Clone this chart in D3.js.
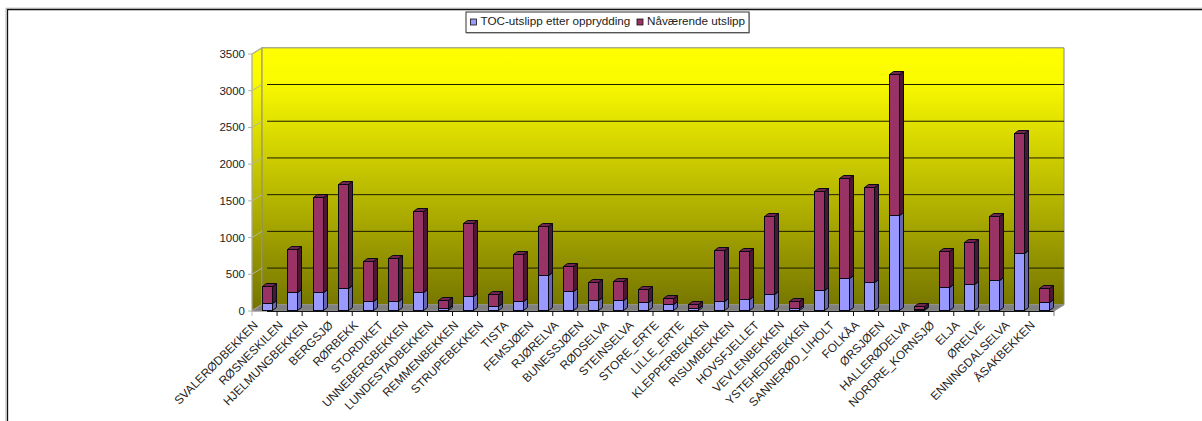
<!DOCTYPE html>
<html>
<head>
<meta charset="utf-8">
<script src="https://cdn.jsdelivr.net/npm/d3@7"></script>
<style>
html,body{margin:0;padding:0;background:#fff;overflow:hidden}
svg{display:block}
text{font-family:"Liberation Sans",Arial,sans-serif;fill:#222}
</style>
</head>
<body>
<div id="chart"></div>
<script>
const categories = ["SVALERØDBEKKEN","RØSNESKILEN","HJELMUNGBEKKEN","BERGSJØ","RØRBEKK","STORDIKET","UNNEBERGBEKKEN","LUNDESTADBEKKEN","REMMENBEKKEN","STRUPEBEKKEN","TISTA","FEMSJØEN","RJØRELVA","BUNESSJØEN","RØDSELVA","STEINSELVA","STORE_ERTE","LILLE_ERTE","KLEPPERBEKKEN","RISUMBEKKEN","HOVSFJELLET","VEVLENBEKKEN","YSTEHEDEBEKKEN","SANNERØD_LIHOLT","FOLKÅA","ØRSJØEN","HALLERØDELVA","NORDRE_KORNSJØ","ELJA","ØRELVE","ENNINGDALSELVA","ÅSAKBEKKEN"];
const etterOpprydding = [85,237,237,291,123,123,245,23,187,50,114,473,259,136,136,101,73,23,123,146,210,23,272,436,373,1294,8,309,350,409,768,101];
const naavaerendeTotal = [323,823,1535,1707,663,700,1344,132,1181,210,759,1135,600,373,395,286,155,82,809,796,1280,114,1620,1793,1671,3211,50,800,918,1272,2402,300];
const naavaerende = naavaerendeTotal.map((t,i)=>t-etterOpprydding[i]);
const yTicks = [0,500,1000,1500,2000,2500,3000,3500];
const seriesNames = ["TOC-utslipp etter opprydding","Nåværende utslipp"];
const faceColors = [
  {front:"#9999ff",side:"#6666b0",top:"#7a7acc"},
  {front:"#993366",side:"#4a1832",top:"#73264d"}
];

const W = 1202, H = 421;
const svg = d3.select("#chart").append("svg").attr("width",W).attr("height",H);

// Outer frame: only the top and left edges fall inside the page
svg.append("path").attr("d",`M7.5,${H}V9.5H${W}`).attr("fill","none").attr("stroke","#111").attr("stroke-width",1.3);
svg.append("path").attr("d",`M6,${H}V8.2H${W}`).attr("fill","none").attr("stroke","#999").attr("stroke-width",.8);

// Projection of the pseudo-3D plot box
const x = d3.scaleBand().domain(categories).range([252,1054]);
const y = d3.scaleLinear().domain([0,3500]).range([311,54]);
const wallDx = 10, wallDy = -6.2;
const barDx = 2.9, barDy = -1.3, barW = 10, boxDx = 4, boxDy = -3;
const left = x.range()[0], right = x.range()[1];

const defs = svg.append("defs");
const grad = defs.append("linearGradient").attr("id","wall")
  .attr("gradientUnits","userSpaceOnUse").attr("x1",0).attr("x2",0)
  .attr("y1",y(3500)+wallDy).attr("y2",y(0)+wallDy);
grad.append("stop").attr("offset",0).attr("stop-color","#ffff00");
grad.append("stop").attr("offset",.12).attr("stop-color","#fbfb00");
grad.append("stop").attr("offset",1).attr("stop-color","#777700");

const poly = pts => pts.map(p=>p.join(",")).join(" ");
const crisp = v => Math.round(v)+.5;

// Side wall, back wall and floor
svg.append("polygon").attr("fill","url(#wall)").attr("stroke","#a8a8a0").attr("stroke-width",1.2)
  .attr("points",poly([[left,y(0)],[left,y(3500)],[left+wallDx,y(3500)+wallDy],[left+wallDx,y(0)+wallDy]]));
svg.append("polygon").attr("fill","url(#wall)").attr("stroke","#8a8a80").attr("stroke-width",1)
  .attr("points",poly([[left+wallDx,y(3500)+wallDy],[right+wallDx,y(3500)+wallDy],[right+wallDx,y(0)+wallDy],[left+wallDx,y(0)+wallDy]]));

// Gridlines across the back wall, with the slanted part on the side wall
const grid = svg.append("g");
yTicks.filter(t=>t>0 && t<3500).forEach(t=>{
  grid.append("line").attr("x1",left+wallDx+5).attr("x2",right+wallDx)
    .attr("y1",y(t)+wallDy).attr("y2",y(t)+wallDy).attr("stroke","#1c1c00").attr("stroke-width",1);
});
yTicks.forEach(t=>{
  svg.append("path").attr("d",`M${left-4},${y(t)}H${left}L${left+wallDx},${y(t)+wallDy}`)
    .attr("fill","none").attr("stroke","#b4b4a0").attr("stroke-width",1);
  svg.append("text").attr("x",left-7).attr("y",y(t)+4).attr("text-anchor","end")
    .attr("font-size",11.5).text(d3.format("d")(t));
});

svg.append("polygon").attr("fill","#808080").attr("stroke","#9a9a9a").attr("stroke-width",.6)
  .attr("points",poly([[left,y(0)],[right,y(0)],[right+wallDx,y(0)+wallDy],[left+wallDx,y(0)+wallDy]]));

// Category axis along the front edge of the floor
svg.append("line").attr("x1",left+15).attr("x2",right).attr("y1",y(0)+.5).attr("y2",y(0)+.5)
  .attr("stroke","#111").attr("stroke-width",1);
svg.append("line").attr("x1",left).attr("x2",left+15).attr("y1",y(0)+.5).attr("y2",y(0)+.5)
  .attr("stroke","#b4b4b4").attr("stroke-width",1);
categories.forEach((c,i)=>{
  const tx = x(c)+x.bandwidth();
  svg.append("line").attr("x1",tx).attr("x2",tx).attr("y1",y(0)).attr("y2",y(0)+5)
    .attr("stroke",i===categories.length-1?"#777":"#111").attr("stroke-width",1);
});
svg.append("line").attr("x1",left).attr("x2",left).attr("y1",y(0)).attr("y2",y(0)+5).attr("stroke","#bbb");
svg.append("line").attr("x1",right).attr("x2",right+wallDx).attr("y1",y(0)).attr("y2",y(0)+wallDy).attr("stroke","#999");

// Stacked boxes, lower series first; edges sit on whole pixels to stay sharp
const rows = categories.map((c,i)=>({cat:c,a:etterOpprydding[i],b:naavaerende[i]}));
const stacked = d3.stack().keys(["a","b"])(rows);
const bars = svg.append("g").attr("stroke","#0a0a14").attr("stroke-width",1).attr("stroke-linejoin","miter");
rows.forEach((r,i)=>{
  stacked.forEach((layer,k)=>{
    const c = faceColors[k];
    const x0 = crisp(x(r.cat)+(x.bandwidth()-barW)/2+barDx), x1 = x0+barW;
    const yb = crisp(y(layer[i][0])+barDy), yt = crisp(y(layer[i][1])+barDy);
    bars.append("polygon").attr("fill",c.side)
      .attr("points",poly([[x1,yb],[x1,yt],[x1+boxDx,yt+boxDy],[x1+boxDx,yb+boxDy]]));
    bars.append("polygon").attr("fill",c.top)
      .attr("points",poly([[x0,yt],[x1,yt],[x1+boxDx,yt+boxDy],[x0+boxDx,yt+boxDy]]));
    bars.append("rect").attr("fill",c.front)
      .attr("x",x0).attr("y",yt).attr("width",barW).attr("height",Math.max(0,yb-yt));
  });
});

// Slanted category labels
categories.forEach(c=>{
  const lx = x(c)+x.bandwidth()/2-6, ly = y(0)+15;
  svg.append("text").attr("transform",`translate(${lx},${ly}) rotate(-45)`)
    .attr("text-anchor","end").attr("font-size",11.9).text(c);
});

// Legend box
const legend = svg.append("g");
legend.append("rect").attr("x",466).attr("y",12).attr("width",283).attr("height",20.5)
  .attr("fill","#fff").attr("stroke","#333").attr("stroke-width",1);
legend.append("path").attr("d","M749.5,12.5V33H466").attr("fill","none").attr("stroke","#777").attr("stroke-width",1);
const legendX = [470.5,637];
seriesNames.forEach((s,i)=>{
  legend.append("rect").attr("x",legendX[i]).attr("y",19).attr("width",6).attr("height",6)
    .attr("fill",faceColors[i].front).attr("stroke","#111").attr("stroke-width",.8);
  legend.append("text").attr("x",legendX[i]+10).attr("y",24.5).attr("font-size",11.7).text(s);
});
</script>
</body>
</html>
